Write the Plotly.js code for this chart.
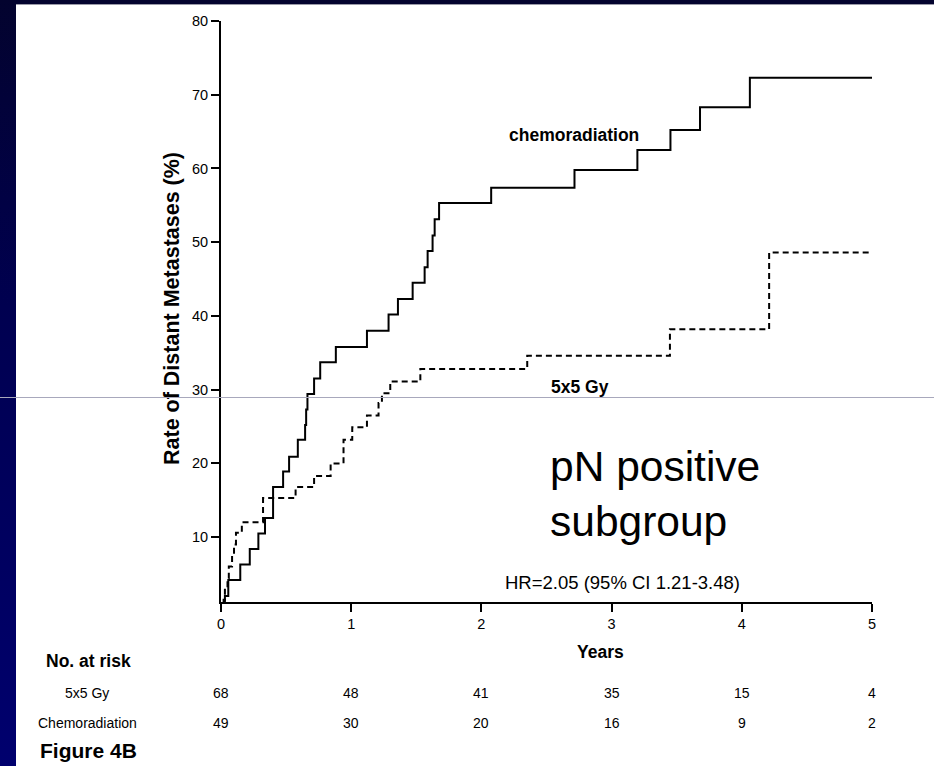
<!DOCTYPE html>
<html>
<head>
<meta charset="utf-8">
<script src="https://cdn.plot.ly/plotly-3.0.1.min.js"></script>
<style>
  html, body { margin: 0; padding: 0; width: 934px; height: 766px; overflow: hidden; }
  body { background: linear-gradient(to bottom, #03032e 0%, #000050 40%, #00006e 100%); position: relative; }
  #paper { position: absolute; left: 16px; top: 4px; width: 918px; height: 762px; background: #ffffff; border-top: 1px solid #9a9aa8; box-sizing: border-box; }
  #chart { position: absolute; left: 0; top: 0; width: 934px; height: 766px; }
  #hline { position: absolute; left: 0; top: 397px; width: 934px; height: 1px; background: #a8a8bc; pointer-events: none; }
</style>
</head>
<body>
<div id="paper"></div>
<div id="chart"></div>
<div id="hline"></div>
<script>
// Kaplan-Meier style step data (years, cumulative rate %)
const chemoTime = [0, 0.03, 0.056, 0.148, 0.221, 0.287, 0.338, 0.40, 0.477, 0.523, 0.59, 0.646, 0.654, 0.664, 0.715, 0.762, 0.882, 1.121, 1.287, 1.359, 1.472, 1.564, 1.587, 1.625, 1.641, 1.675, 2.075, 2.715, 3.198, 3.452, 3.679, 4.062, 5.0];
const chemoRate = [0, 2.0, 4.2, 6.3, 8.4, 10.5, 12.6, 16.8, 18.9, 20.9, 23.2, 25.2, 27.3, 29.4, 31.5, 33.7, 35.8, 38.0, 40.2, 42.3, 44.5, 46.6, 48.8, 50.9, 53.1, 55.3, 57.4, 59.8, 62.5, 65.2, 68.3, 72.3, 72.3];

const gyTime = [0, 0.02, 0.03, 0.05, 0.06, 0.085, 0.10, 0.115, 0.16, 0.323, 0.573, 0.715, 0.842, 0.941, 1.008, 1.121, 1.21, 1.236, 1.30, 1.531, 2.352, 3.448, 4.21, 5.0];
const gyRate = [0, 1.5, 3.0, 4.4, 6.0, 7.5, 9.0, 10.6, 12.0, 15.3, 16.8, 18.3, 20.0, 23.2, 24.9, 26.5, 28.2, 29.5, 31.1, 32.8, 34.6, 38.2, 48.6, 48.6];

// Number at risk table
const riskTimes = [0, 1, 2, 3, 4, 5];
const riskGy = [68, 48, 41, 35, 15, 4];
const riskChemo = [49, 30, 20, 16, 9, 2];
const riskLabels = ["5x5 Gy", "Chemoradiation"];

const xTicks = [0, 1, 2, 3, 4, 5];
const yTicks = [10, 20, 30, 40, 50, 60, 70, 80];

const FONT = "Liberation Sans, Arial, Helvetica, sans-serif";

const traces = [
  { x: chemoTime, y: chemoRate, type: "scatter", mode: "lines", line: { shape: "hv", color: "#000000", width: 2 }, hoverinfo: "skip", name: "chemoradiation" },
  { x: gyTime, y: gyRate, type: "scatter", mode: "lines", line: { shape: "hv", color: "#000000", width: 2, dash: "6px,4px" }, hoverinfo: "skip", name: "5x5 Gy" }
];

const ann = [];
function addText(o) {
  ann.push(Object.assign({ showarrow: false, xanchor: "center", yanchor: "middle", borderpad: 0,
    font: { family: FONT, size: 14, color: "#000" } }, o));
}

addText({ xref: "x", yref: "y", x: 2.708, y: 64.6, text: "<b>chemoradiation</b>", font: { family: FONT, size: 17.5, color: "#000" } });
addText({ xref: "x", yref: "y", x: 2.754, y: 30.4, text: "<b>5x5 Gy</b>", font: { family: FONT, size: 17.5, color: "#000" } });
addText({ xref: "x", yref: "y", x: 2.522, y: 15.8, xanchor: "left", align: "left", text: "pN positive<br>subgroup", font: { family: FONT, size: 42.5, color: "#000" } });
addText({ xref: "x", yref: "y", x: 3.085, y: 3.8, text: "HR=2.05 (95% CI 1.21-3.48)", font: { family: FONT, size: 18.5, color: "#000" } });

addText({ xref: "paper", yref: "paper", x: 0.5837, y: -0.0853, text: "<b>Years</b>", font: { family: FONT, size: 17.5, color: "#000" } });
addText({ xref: "paper", yref: "paper", x: -0.0753, y: 0.506, textangle: -90, text: "<b>Rate of Distant Metastases (%)</b>", font: { family: FONT, size: 21.5, color: "#000" } });

addText({ xref: "paper", yref: "paper", x: -0.2043, y: -0.1011, text: "<b>No. at risk</b>", font: { family: FONT, size: 17.5, color: "#000" } });
addText({ xref: "paper", yref: "paper", x: -0.2058, y: -0.1561, text: riskLabels[0] });
addText({ xref: "paper", yref: "paper", x: -0.2048, y: -0.2077, text: riskLabels[1] });
addText({ xref: "paper", yref: "paper", x: -0.2796, y: -0.2559, xanchor: "left", text: "<b>Figure 4B</b>", font: { family: FONT, size: 21, color: "#000" } });

riskTimes.forEach((t, i) => {
  addText({ xref: "x", yref: "paper", x: t, y: -0.1561, text: String(riskGy[i]) });
  addText({ xref: "x", yref: "paper", x: t, y: -0.2077, text: String(riskChemo[i]) });
});

const layout = {
  width: 934, height: 766,
  margin: { l: 221, r: 62, t: 21, b: 164 },
  paper_bgcolor: "rgba(0,0,0,0)",
  plot_bgcolor: "rgba(0,0,0,0)",
  showlegend: false,
  font: { family: FONT, size: 14, color: "#000" },
  xaxis: {
    range: [0, 5], tickvals: xTicks, ticktext: xTicks.map(String),
    showline: true, linecolor: "#000", linewidth: 2, mirror: false,
    ticks: "outside", ticklen: 8, tickwidth: 2, tickcolor: "#000",
    showgrid: false, zeroline: false, fixedrange: true,
    tickfont: { family: FONT, size: 14.5, color: "#000" }
  },
  yaxis: {
    range: [1.2, 80], tickvals: yTicks, ticktext: yTicks.map(String),
    showline: true, linecolor: "#000", linewidth: 2,
    ticks: "outside", ticklen: 8, tickwidth: 2, tickcolor: "#000",
    showgrid: false, zeroline: false, fixedrange: true,
    tickfont: { family: FONT, size: 14.5, color: "#000" }
  },
  annotations: ann
};

Plotly.newPlot("chart", traces, layout, { displayModeBar: false, staticPlot: true });
</script>
</body>
</html>
